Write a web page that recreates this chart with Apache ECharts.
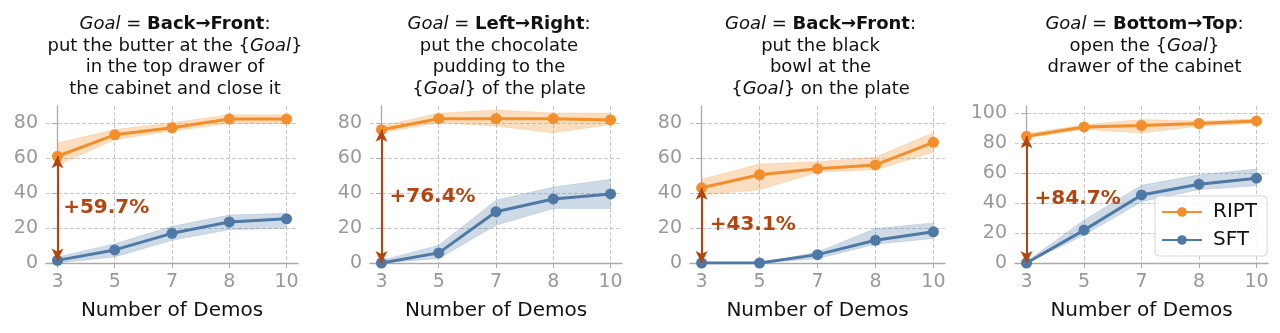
<!DOCTYPE html>
<html>
<head>
<meta charset="utf-8">
<script src="https://cdn.jsdelivr.net/npm/echarts@6/dist/echarts.min.js"></script>
<style>
    html, body { margin: 0; padding: 0; background: #fff; }
    #chart { width: 1280px; height: 333px; }
</style>
</head>
<body>
<div id="chart"></div>
<script>
// x categories (number of demos), evenly spaced
var demos = ['3', '5', '7', '8', '10'];

// butter -> top drawer
var butterRipt = [61.2, 73.5, 77.5, 82.5, 82.5];
var butterRiptLo = [56, 70.8, 75.6, 80, 80];
var butterRiptHi = [68.8, 76.5, 80.4, 85, 85];
var butterSft = [1.5, 7.5, 17, 23.5, 25.3];
var butterSftLo = [0, 3.5, 13, 19, 20];
var butterSftHi = [3.5, 11, 21, 27.5, 28.5];

// chocolate pudding
var puddingRipt = [76.4, 82.7, 82.7, 82.7, 82];
var puddingRiptLo = [74.6, 80.4, 78.5, 74.6, 79.4];
var puddingRiptHi = [78.5, 85.8, 87.7, 86, 86];
var puddingSft = [0, 5.8, 29.4, 36.7, 39.6];
var puddingSftLo = [0, 2.5, 21.7, 31.3, 31.3];
var puddingSftHi = [1.5, 10.2, 36, 43.5, 48];

// black bowl
var bowlRipt = [43.1, 50.6, 54, 56.2, 69.2];
var bowlRiptLo = [39, 42, 52, 53.5, 63.5];
var bowlRiptHi = [48, 56.7, 58, 60.8, 74.6];
var bowlSft = [0, 0, 4.8, 13, 17.9];
var bowlSftLo = [0, 0, 2.5, 10.8, 14];
var bowlSftHi = [0, 0, 6.3, 19.8, 23];

// open drawer
var drawerRipt = [84.7, 91, 92, 93.3, 95];
var drawerRiptLo = [83.5, 89.5, 87, 91.5, 93.5];
var drawerRiptHi = [86.5, 92.5, 96, 95, 96.5];
var drawerSft = [0, 22, 45.5, 52.7, 56.7];
var drawerSftLo = [0, 18.6, 41, 49, 51.6];
var drawerSftHi = [1, 28.7, 52, 59, 62.8];

var gainLabels = ['+59.7%', '+76.4%', '+43.1%', '+84.7%'];
var yTicks = [[0, 20, 40, 60, 80], [0, 20, 40, 60, 80], [0, 20, 40, 60, 80], [0, 20, 40, 60, 80, 100]];
var yMax = [90, 90, 90, 105];

var titles = [
    '{i|Goal} = {b|Back\u2192Front}:\nput the butter at the {{i|Goal}}\nin the top drawer of\nthe cabinet and close it',
    '{i|Goal} = {b|Left\u2192Right}:\nput the chocolate\npudding to the\n{{i|Goal}} of the plate',
    '{i|Goal} = {b|Back\u2192Front}:\nput the black\nbowl at the\n{{i|Goal}} on the plate',
    '{i|Goal} = {b|Bottom\u2192Top}:\nopen the {{i|Goal}}\ndrawer of the cabinet'
];

var panels = [
    {ript: butterRipt, riptLo: butterRiptLo, riptHi: butterRiptHi, sft: butterSft, sftLo: butterSftLo, sftHi: butterSftHi},
    {ript: puddingRipt, riptLo: puddingRiptLo, riptHi: puddingRiptHi, sft: puddingSft, sftLo: puddingSftLo, sftHi: puddingSftHi},
    {ript: bowlRipt, riptLo: bowlRiptLo, riptHi: bowlRiptHi, sft: bowlSft, sftLo: bowlSftLo, sftHi: bowlSftHi},
    {ript: drawerRipt, riptLo: drawerRiptLo, riptHi: drawerRiptHi, sft: drawerSft, sftLo: drawerSftLo, sftHi: drawerSftHi}
];

// layout (px)
var gridLeft = [46, 370, 690, 1015];
var gridWidth = [252, 252, 255, 253];
var labelPos = [[0.1, 31.5], [0.14, 38], [0.14, 22], [0.14, 43]];

var ORANGE = '#F28E2B';
var BLUE = '#4E79A7';
var ARROW = '#B5450F';
var FONT = 'DejaVu Sans';
var FS = 18;

function pts(arr) {
    return arr.map(function (v, i) { return [i, v]; });
}

// filled band between lo and hi, drawn once as a polygon
function bandSeries(k, lo, hi, color, alpha) {
    return {
        type: 'custom', xAxisIndex: k, yAxisIndex: k, silent: true, z: 1,
        data: lo.map(function (v, i) { return [i, v, hi[i]]; }),
        renderItem: function (params, api) {
            if (params.dataIndex !== 0) return;
            var top = [], bottom = [];
            for (var i = 0; i < lo.length; i++) {
                top.push(api.coord([i, hi[i]]));
                bottom.unshift(api.coord([i, lo[i]]));
            }
            return {
                type: 'polygon',
                shape: {points: top.concat(bottom)},
                style: {fill: color, opacity: alpha, stroke: color, lineWidth: 0.6}
            };
        }
    };
}

var option = {
    animation: false,
    backgroundColor: '#fff',
    textStyle: {fontFamily: FONT},
    title: [],
    grid: [],
    xAxis: [],
    yAxis: [],
    series: [],
    legend: {
        data: ['RIPT', 'SFT'],
        orient: 'vertical',
        left: 1155,
        top: 196,
        itemWidth: 40,
        itemHeight: 12,
        itemGap: 8,
        padding: [6, 10, 6, 6],
        borderColor: '#d6d6d6',
        borderWidth: 1,
        borderRadius: 4,
        backgroundColor: 'rgba(255,255,255,0.85)',
        textStyle: {fontFamily: FONT, fontSize: 20, color: '#111', padding: [0, 0, 0, 6]}
    }
};

panels.forEach(function (p, k) {
    var center = gridLeft[k] + gridWidth[k] / 2 - 2;
    option.title.push({
        text: titles[k],
        left: center,
        top: 9,
        textAlign: 'center',
        textStyle: {
            fontFamily: FONT, fontSize: FS, fontWeight: 'normal', color: '#111', lineHeight: 21.5, align: 'center',
            rich: {
                i: {fontFamily: FONT, fontSize: FS, fontStyle: 'italic', color: '#111', lineHeight: 21.5},
                b: {fontFamily: FONT, fontSize: FS, fontWeight: 'bold', color: '#111', lineHeight: 21.5}
            }
        }
    });
    option.grid.push({left: gridLeft[k], width: gridWidth[k], top: 106, bottom: 70});
    option.xAxis.push({
        type: 'value', gridIndex: k, min: -0.2, max: 4.2,
        name: 'Number of Demos', nameLocation: 'middle', nameGap: 38,
        nameTextStyle: {fontFamily: FONT, fontSize: 20, color: '#111'},
        axisLine: {onZero: false, lineStyle: {color: '#aaa', width: 1.3}},
        axisTick: {customValues: [0, 1, 2, 3, 4], length: 5, lineStyle: {color: '#aaa'}},
        axisLabel: {
            customValues: [0, 1, 2, 3, 4], margin: 10, fontFamily: FONT, fontSize: 19, color: '#999',
            formatter: function (v) { return demos[Math.round(v)]; }
        },
        splitLine: {show: true, lineStyle: {type: 'dashed', color: '#c8c8c8', width: 1}}
    });
    option.yAxis.push({
        type: 'value', gridIndex: k, min: 0, max: yMax[k],
        axisLine: {show: true, lineStyle: {color: '#aaa', width: 1.3}},
        axisTick: {show: true, customValues: yTicks[k], length: 5, lineStyle: {color: '#aaa'}},
        axisLabel: {customValues: yTicks[k], margin: 8, fontFamily: FONT, fontSize: 19, color: '#999'},
        splitLine: {show: true, lineStyle: {type: 'dashed', color: '#c8c8c8', width: 1}}
    });

    option.series.push(bandSeries(k, p.riptLo, p.riptHi, ORANGE, 0.3));
    option.series.push(bandSeries(k, p.sftLo, p.sftHi, BLUE, 0.28));

    option.series.push({
        name: 'RIPT', type: 'line', xAxisIndex: k, yAxisIndex: k, data: pts(p.ript),
        symbol: 'circle', symbolSize: 11, itemStyle: {color: ORANGE},
        lineStyle: {color: ORANGE, width: 3}, z: 4
    });
    option.series.push({
        name: 'SFT', type: 'line', xAxisIndex: k, yAxisIndex: k, data: pts(p.sft),
        symbol: 'circle', symbolSize: 11, itemStyle: {color: BLUE},
        lineStyle: {color: BLUE, width: 3}, z: 3,
        markLine: {
            silent: true, symbol: ['arrow', 'arrow'], symbolSize: [9, 12], precision: 1,
            lineStyle: {color: ARROW, width: 2, type: 'solid'}, label: {show: false},
            data: [[{coord: [0, p.sft[0]]}, {coord: [0, p.ript[0]]}]]
        },
        markPoint: {
            silent: true, symbol: 'circle', symbolSize: 0,
            label: {
                show: true, position: 'right', distance: 0, formatter: gainLabels[k],
                fontFamily: FONT, fontSize: 20, fontWeight: 'bold', color: ARROW
            },
            data: [{coord: labelPos[k]}]
        }
    });
});

var chart = echarts.init(document.getElementById('chart'));
chart.setOption(option);
</script>
</body>
</html>
